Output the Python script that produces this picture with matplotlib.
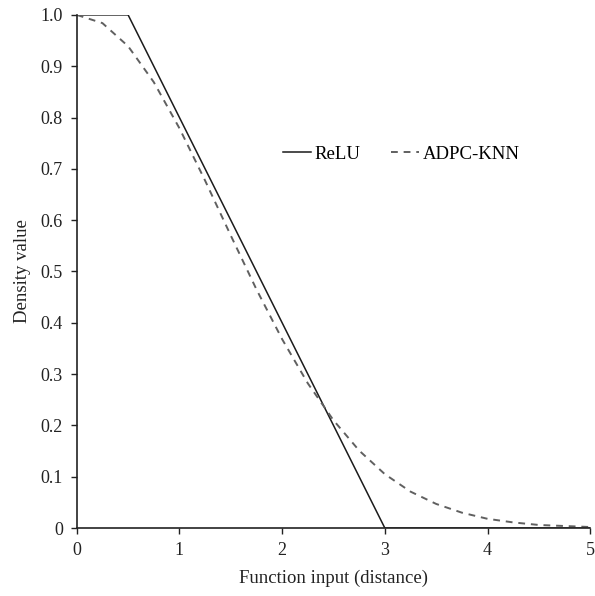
import numpy as np
import matplotlib
matplotlib.use('Agg')
import matplotlib.pyplot as plt

plt.rcParams['font.family'] = ['Liberation Serif', 'DejaVu Serif']

# ReLU-style density (piecewise linear)
relu_x = [0, 0.5, 3.0, 5.0]
relu_y = [1.0, 1.0, 0.0, 0.0]

# ADPC-KNN density
knn_x = [0, 0.25, 0.5, 0.75, 1.0, 1.25, 1.5, 1.75, 2.0, 2.25, 2.5,
         2.75, 3.0, 3.25, 3.5, 3.75, 4.0, 4.25, 4.5, 4.75, 5.0]
knn_y = [1.0, 0.984, 0.939, 0.869, 0.779, 0.677, 0.570, 0.465, 0.368, 0.282, 0.210,
         0.151, 0.105, 0.071, 0.047, 0.030, 0.018, 0.011, 0.006, 0.004, 0.002]

xticks = [0, 1, 2, 3, 4, 5]
yticks = [0, 0.1, 0.2, 0.3, 0.4, 0.5, 0.6, 0.7, 0.8, 0.9, 1.0]
ylabels = ['0', '0.1', '0.2', '0.3', '0.4', '0.5', '0.6', '0.7', '0.8', '0.9', '1.0']

fig = plt.figure(figsize=(5.95, 5.96), dpi=100)
ax = fig.add_axes([0.129, 0.114, 0.863, 0.861])

ax.plot(relu_x, relu_y, color='#1a1a1a', lw=1.1, label='ReLU')
ax.plot(knn_x, knn_y, color='#606060', lw=1.4, ls=(0, (3.5, 3)), label='ADPC-KNN')

ax.set_xlim(0, 5)
ax.set_ylim(0, 1.0)
ax.set_xticks(xticks)
ax.set_yticks(yticks)
ax.set_yticklabels(ylabels)
ax.tick_params(direction='out', length=4, width=1, pad=6, labelsize=13, colors='#222222')
for s in ['top', 'right']:
    ax.spines[s].set_visible(False)
for s in ['left', 'bottom']:
    ax.spines[s].set_linewidth(1.2)
    ax.spines[s].set_color('#222222')

ax.set_xlabel('Function input (distance)', fontsize=13.5, color='#222222', labelpad=8)
ax.set_ylabel('Density value', fontsize=13.5, color='#222222', labelpad=7)

ax.legend(loc='center', bbox_to_anchor=(0.632, 0.729), ncol=2, frameon=False,
          fontsize=13.5, handlelength=1.5, handletextpad=0.2, columnspacing=1.6)

fig.savefig('out.png', dpi=100)
